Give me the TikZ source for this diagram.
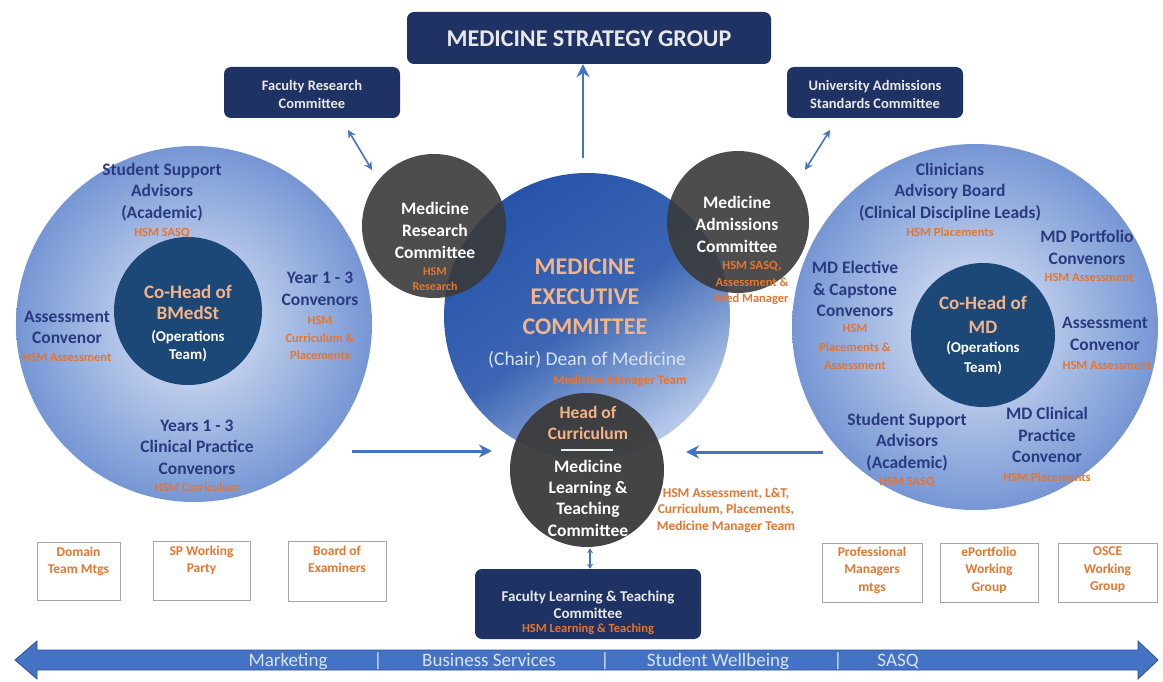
\documentclass[tikz,border=0pt]{standalone}
\usepackage{fontspec}
\setmainfont{Carlito}
\usetikzlibrary{arrows.meta,shapes.geometric}
\definecolor{boxnavy}{RGB}{30,50,100}
\definecolor{boxtext}{RGB}{232,232,232}
\definecolor{lblnavy}{RGB}{42,58,128}
\definecolor{hsmor}{RGB}{228,118,48}
\definecolor{lightor}{RGB}{244,180,135}
\definecolor{darkgray}{RGB}{58,58,58}
\definecolor{cohead}{RGB}{28,72,120}
\definecolor{arrblue}{RGB}{68,114,196}
\definecolor{arredge}{RGB}{47,82,143}
\definecolor{bigin}{RGB}{226,234,247}
\definecolor{bigout}{RGB}{118,150,212}
\definecolor{exectop}{RGB}{38,84,170}
\definecolor{execbot}{RGB}{185,204,236}
\definecolor{chairtxt}{RGB}{215,226,245}
\definecolor{smallbox}{RGB}{165,165,170}
\definecolor{bartext}{RGB}{215,228,248}
\begin{document}
\begin{tikzpicture}[x=1pt,y=-1pt,
  navybox/.style={fill=boxnavy, rounded corners=7pt, draw=none, inner sep=0pt},
  lbl/.style={text=lblnavy, font=\fontsize{17.5}{21.5}\selectfont\bfseries, align=center, inner sep=0pt},
  hsm/.style={text=hsmor, font=\fontsize{12.5}{17}\selectfont\bfseries, align=center, inner sep=0pt},
  wlbl/.style={text=white, font=\fontsize{17.5}{22}\selectfont\bfseries, align=center, inner sep=0pt},
  boxlbl/.style={text=boxtext, font=\fontsize{14.5}{18}\selectfont\bfseries, align=center, inner sep=0pt},
  smallbx/.style={draw=smallbox, line width=1pt, fill=white, inner sep=0pt},
  smalllbl/.style={text=hsmor, font=\fontsize{13.5}{17.5}\selectfont\bfseries, align=center, inner sep=0pt},
  bigarrow/.style={draw=arrblue, line width=3pt, -{Stealth[length=13pt,width=13pt]}},
  dblarrow/.style={draw=arrblue, line width=1.6pt, {Stealth[length=8pt,width=8pt]}-{Stealth[length=8pt,width=8pt]}},
  bartxt/.style={text=bartext, font=\fontsize{19}{20}\selectfont, inner sep=0pt, anchor=base}
]
\useasboundingbox (0,0) rectangle (1163,682);
\fill[white] (0,0) rectangle (1163,682);

% top boxes
\node[navybox, minimum width=364pt, minimum height=52pt] (msg) at (589,38) {};
\node[text=boxtext, font=\fontsize{24}{26}\selectfont\bfseries, inner sep=0pt] (msgt) at (589,39) {MEDICINE STRATEGY GROUP};
\node[navybox, minimum width=176pt, minimum height=51pt] (frc) at (312,92.5) {};
\node[boxlbl] (frct) at (312,94) {Faculty Research\\Committee};
\node[navybox, minimum width=176pt, minimum height=51pt] (uasc) at (875,92.5) {};
\node[boxlbl] (uasct) at (875,94) {University Admissions\\Standards Committee};

% big circles
\node[circle, minimum size=356pt, inner sep=0pt, inner color=bigin, outer color=bigout] (lc) at (194,324) {};
\node[circle, minimum size=366pt, inner sep=0pt, inner color=bigin, outer color=bigout] (rc) at (975,327) {};

% executive circle
\node[circle, minimum size=286pt, inner sep=0pt, top color=exectop, bottom color=execbot, middle color=exectop!85!execbot, shading angle=35] (ec) at (587,316) {};

% dark committee circles
\node[circle, minimum size=144pt, inner sep=0pt, fill=darkgray, fill opacity=0.9] (rsc) at (434,226) {};
\node[circle, minimum size=142pt, inner sep=0pt, fill=darkgray, fill opacity=0.9] (adc) at (738,222) {};
\node[circle, minimum size=154pt, inner sep=0pt, fill=darkgray, fill opacity=0.95] (ltc) at (587,470) {};

% co-head circles
\node[circle, minimum size=148pt, inner sep=0pt, fill=cohead] (chl) at (188,311) {};
\node[circle, minimum size=144pt, inner sep=0pt, fill=cohead] (chr) at (983,335) {};

% left circle texts
\node[lbl] (l1) at (162,192) {Student Support\\Advisors\\(Academic)};
\node[hsm] (l1h) at (162,233) {HSM SASQ};
\node[lbl] (l2) at (67,327.5) {Assessment\\Convenor};
\node[hsm] (l2h) at (67,357) {HSM Assessment};
\node[lbl] (l3) at (320,289) {Year 1 - 3\\Convenors};
\node[hsm, font=\fontsize{12.5}{17.5}\selectfont\bfseries] (l3h) at (320,338) {HSM\\Curriculum \&\\Placements};
\node[lbl] (l4) at (197,447) {Years 1 - 3\\Clinical Practice\\Convenors};
\node[hsm] (l4h) at (197,487) {HSM Curriculum};
\node[text=lightor, font=\fontsize{19}{21.5}\selectfont\bfseries, align=center, inner sep=0pt] (chlt) at (188,302.5) {Co-Head of\\BMedSt};
\node[text=white, font=\fontsize{15}{18.5}\selectfont\bfseries, align=center, inner sep=0pt] (chlo) at (188,346) {(Operations\\Team)};

% right circle texts
\node[lbl] (r1) at (950,192) {Clinicians\\Advisory Board\\(Clinical Discipline Leads)};
\node[hsm] (r1h) at (950,232) {HSM Placements};
\node[lbl] (r2) at (1087,247.5) {MD Portfolio\\Convenors};
\node[hsm] (r2h) at (1089,277) {HSM Assessment};
\node[lbl] (r3) at (855,289) {MD Elective\\\& Capstone\\Convenors};
\node[hsm, font=\fontsize{12.5}{18.5}\selectfont\bfseries] (r3h) at (855,347) {HSM\\Placements \&\\Assessment};
\node[lbl] (r4) at (1105,334) {Assessment\\Convenor};
\node[hsm] (r4h) at (1107,365) {HSM Assessment};
\node[lbl] (r5) at (907,442) {Student Support\\Advisors\\(Academic)};
\node[hsm] (r5h) at (907,482) {HSM SASQ};
\node[lbl] (r6) at (1047,435) {MD Clinical\\Practice\\Convenor};
\node[hsm] (r6h) at (1047,477) {HSM Placements};
\node[text=lightor, font=\fontsize{19}{24}\selectfont\bfseries, align=center, inner sep=0pt] (chrt) at (983,315) {Co-Head of\\MD};
\node[text=white, font=\fontsize{15}{19.5}\selectfont\bfseries, align=center, inner sep=0pt] (chro) at (983,358) {(Operations\\Team)};

% executive texts
\node[text=lightor, font=\fontsize{24}{30}\selectfont\bfseries, align=center, inner sep=0pt] (ect) at (585,297) {MEDICINE\\EXECUTIVE\\COMMITTEE};
\node[text=chairtxt, font=\fontsize{19.5}{21}\selectfont, inner sep=0pt] (ecc) at (587,360) {(Chair) Dean of Medicine};
\node[hsm, font=\fontsize{13}{15}\selectfont\bfseries] (ech) at (620,381) {Medicine Manager Team};

% research & admissions texts
\node[wlbl] (rsct) at (435,230) {Medicine\\Research\\Committee};
\node[hsm, font=\fontsize{12}{15}\selectfont\bfseries] (rsch) at (435,279.5) {HSM\\Research};
\node[wlbl] (adct) at (737,224) {Medicine\\Admissions\\Committee};
\node[hsm, font=\fontsize{12.5}{16.5}\selectfont\bfseries] (adch) at (752,283) {HSM SASQ,\\Assessment \&\\Med Manager};

% L&T circle texts
\node[text=lightor, font=\fontsize{17.5}{21}\selectfont\bfseries, align=center, inner sep=0pt] (ltch) at (588,422.5) {Head of\\Curriculum};
\draw[white!85!gray, line width=2pt] (ltc.center) ++(-26,-20) coordinate (lta) -- ++(52,0) coordinate (ltb);
\node[wlbl, font=\fontsize{17.5}{21.3}\selectfont\bfseries] (ltct) at (588,498) {Medicine\\Learning \&\\Teaching\\Committee};
\node[hsm, font=\fontsize{13.5}{16.5}\selectfont\bfseries] (ltch2) at (726,510) {HSM Assessment, L\&T,\\Curriculum, Placements,\\Medicine Manager Team};

% faculty L&T box
\node[navybox, minimum width=226pt, minimum height=70pt] (flt) at (588,604) {};
\node[boxlbl, font=\fontsize{15}{17.5}\selectfont\bfseries] (fltt) at (588,605) {Faculty Learning \& Teaching\\Committee};
\node[hsm, font=\fontsize{12.5}{15}\selectfont\bfseries] (flth) at (588,629) {HSM Learning \& Teaching};

% bottom small boxes
\node[smallbx, minimum width=83pt, minimum height=58pt] (b1) at (78.5,571) {};
\node[smalllbl, anchor=north] at (b1.north) [yshift=-5pt] {Domain\\Team Mtgs};
\node[smallbx, minimum width=97pt, minimum height=59pt] (b2) at (201.5,570.5) {};
\node[smalllbl, anchor=north] at (b2.north) [yshift=-5pt] {SP Working\\Party};
\node[smallbx, minimum width=98pt, minimum height=60pt] (b3) at (337,571) {};
\node[smalllbl, anchor=north] at (b3.north) [yshift=-5pt] {Board of\\Examiners};
\node[smallbx, minimum width=100pt, minimum height=59pt] (b4) at (872,572.5) {};
\node[smalllbl, anchor=north] at (b4.north) [yshift=-4pt] {Professional\\Managers\\mtgs};
\node[smallbx, minimum width=98pt, minimum height=59pt] (b5) at (989,572.5) {};
\node[smalllbl, anchor=north] at (b5.north) [yshift=-4pt] {ePortfolio\\Working\\Group};
\node[smallbx, minimum width=99pt, minimum height=59pt] (b6) at (1107.5,572.5) {};
\node[smalllbl, anchor=north] at (b6.north) [yshift=-4pt] {OSCE\\Working\\Group};

% connectors
\coordinate (upA) at (583,158);
\draw[bigarrow, line width=2.6pt] (upA) -- (msg.south -| upA);
\coordinate (dl1) at (348,130);
\coordinate (dl2) at (372,170);
\draw[dblarrow] (dl1) -- (dl2);
\coordinate (dr1) at (830,130);
\coordinate (dr2) at (805,170);
\draw[dblarrow] (dr1) -- (dr2);
\coordinate (hl1) at (352,451);
\coordinate (hl2) at (492,451);
\draw[bigarrow] (hl1) -- (hl2);
\coordinate (hr1) at (823,452);
\coordinate (hr2) at (686,452);
\draw[bigarrow] (hr1) -- (hr2);
\draw[draw=arrblue, line width=1.4pt, {Stealth[length=5pt,width=6pt]}-{Stealth[length=5pt,width=6pt]}] (ltc.south) ++(3,1) coordinate (va) -- (flt.north -| va);

% bottom double arrow bar
\filldraw[fill=arrblue, draw=arredge, line width=0.8pt] (15,660) -- (37,641) -- (37,650) -- (1138,650) -- (1138,641) -- (1158,660) -- (1138,679) -- (1138,670) -- (37,670) -- (37,679) -- cycle;
\node[bartxt] (t1) at (288,666.5) {Marketing};
\node[bartxt] (s1) at (378,666.5) {|};
\node[bartxt] (t2) at (489,666.5) {Business Services};
\node[bartxt] (s2) at (605,666.5) {|};
\node[bartxt] (t3) at (718,666.5) {Student Wellbeing};
\node[bartxt] (s3) at (838,666.5) {|};
\node[bartxt] (t4) at (898,666.5) {SASQ};
\end{tikzpicture}
\end{document}
